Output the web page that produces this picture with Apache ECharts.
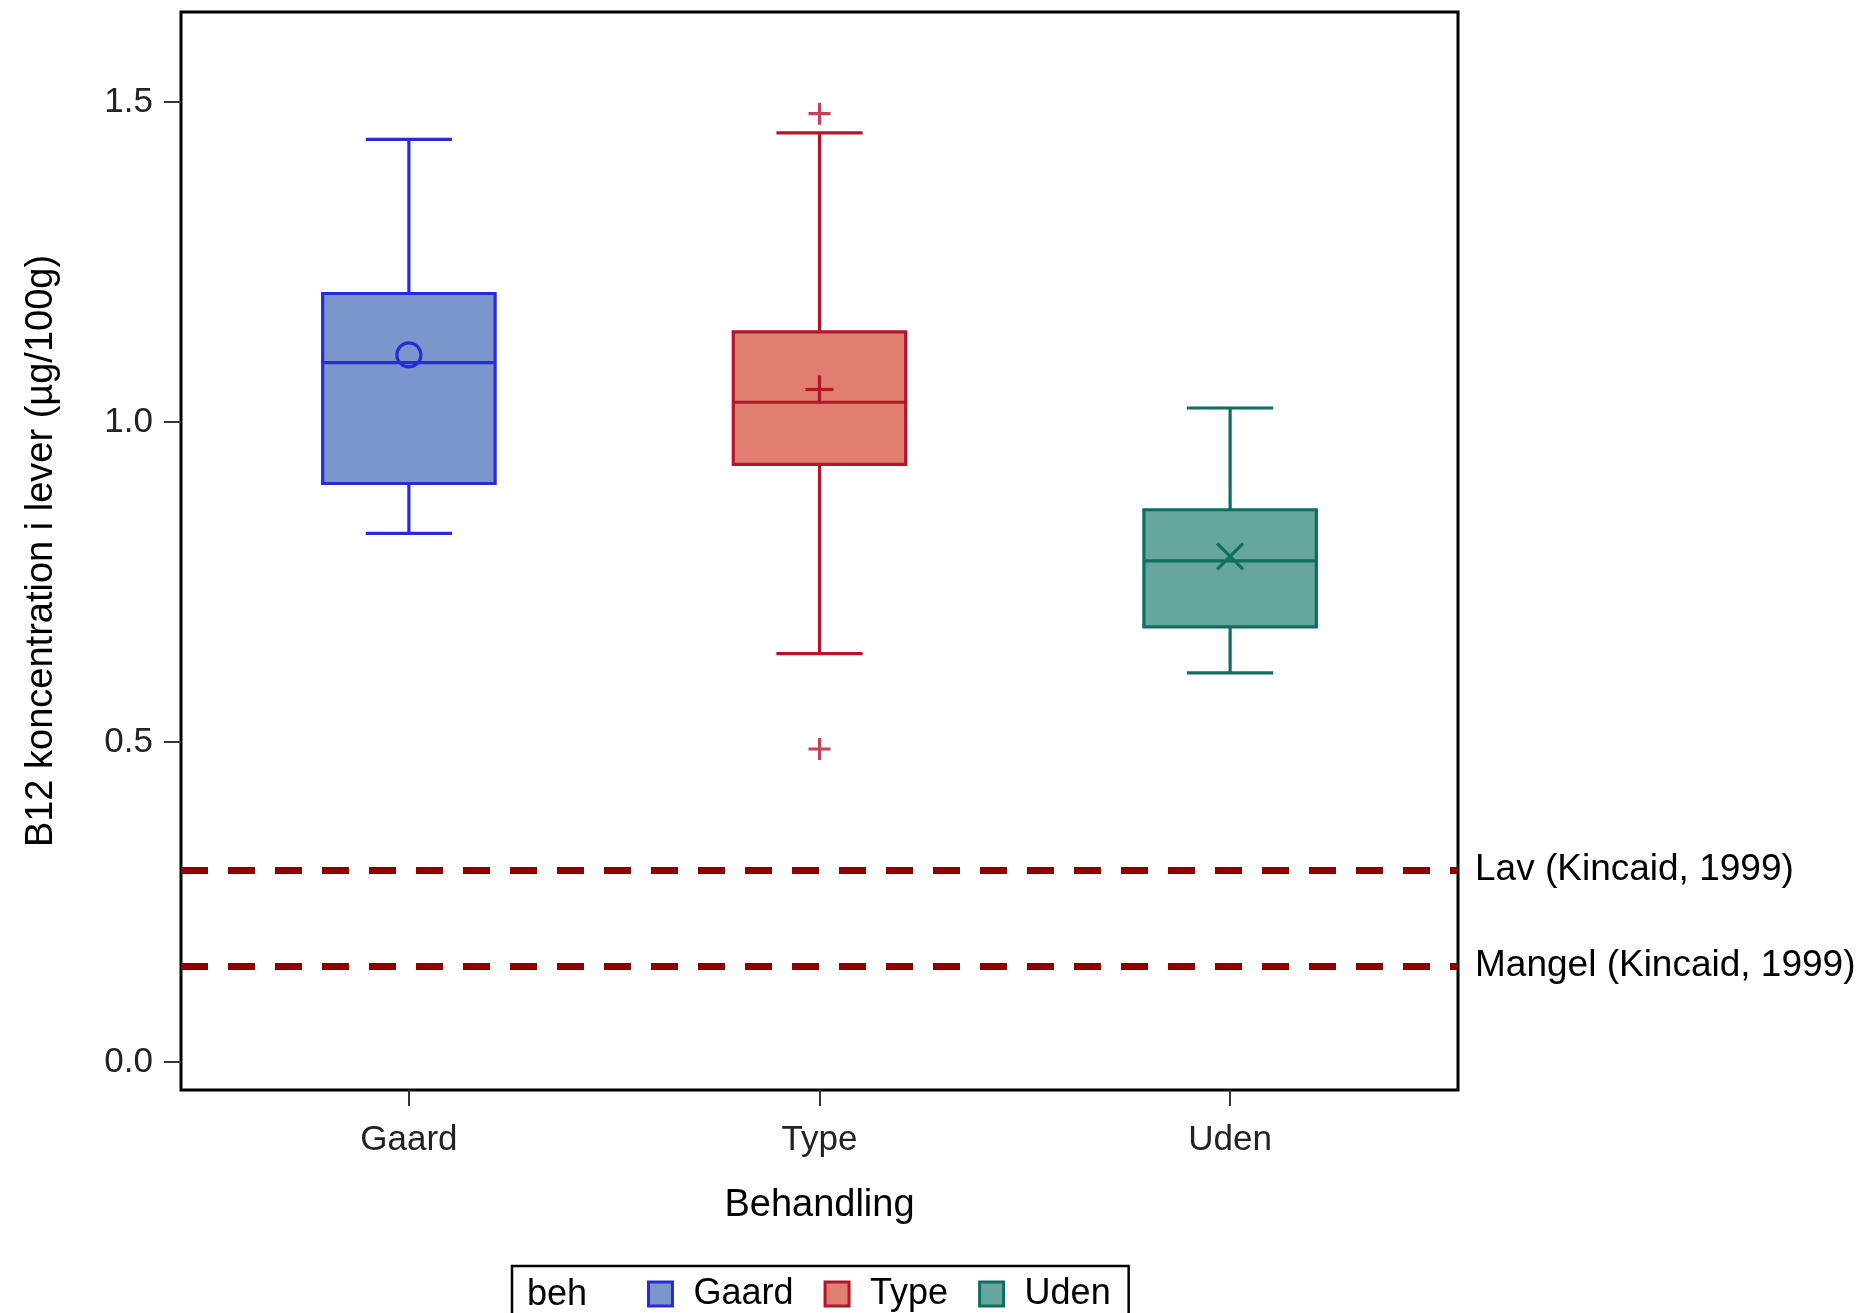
<!DOCTYPE html>
<html>
<head>
<meta charset="utf-8">
<title>B12 koncentration i lever</title>
<script src="https://cdn.jsdelivr.net/npm/echarts@6/dist/echarts.min.js"></script>
<style>
  html, body { margin: 0; padding: 0; background: #fff; }
  #chart { width: 1865px; height: 1313px; }
</style>
</head>
<body>
<div id="chart"></div>
<script>
// Box plot statistics per treatment group
const categories = ['Gaard', 'Type', 'Uden'];
const whiskerLow  = [0.826, 0.638, 0.608];
const quartile1   = [0.904, 0.934, 0.680];
const medians     = [1.093, 1.031, 0.783];
const quartile3   = [1.201, 1.141, 0.863];
const whiskerHigh = [1.442, 1.452, 1.022];
const means       = [1.105, 1.051, 0.790];
const outlierGroup  = [1, 1];
const outlierValues = [1.482, 0.489];

// Reference levels
const refValues = [0.3, 0.15];
const refLabels = ['Lav (Kincaid, 1999)', 'Mangel (Kincaid, 1999)'];

const yTicks = [0, 0.5, 1.0, 1.5];
const xTicks = [0, 1, 2];

const FONT = '"Liberation Sans", Arial, Helvetica, sans-serif';
const fills   = ['#7B96CC', '#E07E6F', '#66A69F'];
const strokes = ['#2B2BD6', '#B5152B', '#0F6E62'];
const meanShapes = ['circle', 'plus', 'cross'];

const BOX_W = 0.42;   // box width in category units
const CAP_W = 0.21;   // whisker cap width in category units

function renderBox(params, api) {
  const x = api.value(0);
  const lo = api.coord([x, api.value(1)]);
  const q1 = api.coord([x, api.value(2)]);
  const md = api.coord([x, api.value(3)]);
  const q3 = api.coord([x, api.value(4)]);
  const hi = api.coord([x, api.value(5)]);
  const mn = api.coord([x, api.value(6)]);
  const bw = api.size([BOX_W, 0])[0];
  const cw = api.size([CAP_W, 0])[0];
  const cx = lo[0];
  const idx = params.seriesIndex;
  const stroke = strokes[idx];
  const lineStyle = { stroke: stroke, lineWidth: 3.2, fill: null };
  const children = [
    { type: 'line', shape: { x1: cx, y1: q3[1], x2: cx, y2: hi[1] }, style: lineStyle },
    { type: 'line', shape: { x1: cx, y1: q1[1], x2: cx, y2: lo[1] }, style: lineStyle },
    { type: 'line', shape: { x1: cx - cw / 2, y1: hi[1], x2: cx + cw / 2, y2: hi[1] }, style: lineStyle },
    { type: 'line', shape: { x1: cx - cw / 2, y1: lo[1], x2: cx + cw / 2, y2: lo[1] }, style: lineStyle },
    { type: 'rect', shape: { x: cx - bw / 2, y: q3[1], width: bw, height: q1[1] - q3[1] },
      style: { fill: fills[idx], stroke: stroke, lineWidth: 3.2 } },
    { type: 'line', shape: { x1: cx - bw / 2, y1: md[1], x2: cx + bw / 2, y2: md[1] }, style: lineStyle }
  ];
  const shape = meanShapes[idx];
  if (shape === 'circle') {
    children.push({ type: 'circle', shape: { cx: cx, cy: mn[1], r: 12 }, style: lineStyle });
  } else if (shape === 'plus') {
    children.push({ type: 'line', shape: { x1: cx - 14, y1: mn[1], x2: cx + 14, y2: mn[1] }, style: lineStyle });
    children.push({ type: 'line', shape: { x1: cx, y1: mn[1] - 14, x2: cx, y2: mn[1] + 14 }, style: lineStyle });
  } else {
    children.push({ type: 'line', shape: { x1: cx - 13, y1: mn[1] - 13, x2: cx + 13, y2: mn[1] + 13 }, style: lineStyle });
    children.push({ type: 'line', shape: { x1: cx - 13, y1: mn[1] + 13, x2: cx + 13, y2: mn[1] - 13 }, style: lineStyle });
  }
  return { type: 'group', children: children };
}

const boxSeries = categories.map(function (name, i) {
  return {
    name: name,
    type: 'custom',
    renderItem: renderBox,
    encode: { x: 0, y: [1, 2, 3, 4, 5] },
    itemStyle: { color: fills[i], borderColor: strokes[i] },
    data: [[i, whiskerLow[i], quartile1[i], medians[i], quartile3[i], whiskerHigh[i], means[i]]],
    z: 3
  };
});

const outlierSeries = {
  name: 'outliers',
  type: 'scatter',
  symbol: 'path://M-1.6,-11h3.2v22h-3.2z M-11,-1.6h22v3.2h-22z',
  symbolSize: 22,
  itemStyle: { color: strokes[1] },
  data: outlierGroup.map(function (g, k) { return [g, outlierValues[k]]; }),
  z: 4,
  markLine: {
    silent: true,
    symbol: ['none', 'none'],
    lineStyle: { color: '#900000', width: 7, type: [27, 20], cap: 'butt', opacity: 1 },
    label: {
      show: true,
      position: 'end',
      distance: 17,
      fontFamily: FONT,
      fontSize: 37,
      color: '#000',
      formatter: function (p) { return p.name; }
    },
    emphasis: { disabled: true },
    data: refValues.map(function (v, k) { return { yAxis: v, name: refLabels[k] }; })
  }
};

const chart = echarts.init(document.getElementById('chart'), null, { renderer: 'canvas' });
chart.setOption({
  animation: false,
  backgroundColor: '#fff',
  textStyle: { fontFamily: FONT },
  title: {
    text: 'beh',
    left: 527,
    top: 1277,
    padding: 0,
    textStyle: { fontFamily: FONT, fontSize: 36, fontWeight: 'normal', color: '#000' }
  },
  legend: {
    left: 512,
    top: 1266,
    orient: 'horizontal',
    borderColor: '#000',
    borderWidth: 2.5,
    padding: [10, 18, 34, 135],
    itemWidth: 24,
    itemHeight: 24,
    itemGap: 30,
    selectedMode: false,
    textStyle: { fontFamily: FONT, fontSize: 36, color: '#000', padding: [0, 0, 0, 16] },
    data: categories.map(function (name, i) {
      return { name: name, icon: 'rect', itemStyle: { color: fills[i], borderColor: strokes[i], borderWidth: 3 } };
    })
  },
  grid: {
    left: 181,
    top: 12,
    width: 1277,
    height: 1078,
    show: true,
    borderColor: '#000',
    borderWidth: 3,
    backgroundColor: 'transparent'
  },
  xAxis: {
    type: 'value',
    min: -0.555,
    max: 2.555,
    name: 'Behandling',
    nameLocation: 'middle',
    nameGap: 97,
    nameTextStyle: { fontFamily: FONT, fontSize: 38, color: '#000' },
    axisLine: { show: false, onZero: false },
    splitLine: { show: false },
    axisTick: { show: true, customValues: xTicks, length: 16, lineStyle: { color: '#333', width: 2 } },
    axisLabel: {
      customValues: xTicks,
      margin: 33,
      fontFamily: FONT,
      fontSize: 35,
      color: '#222',
      formatter: function (v) { return categories[Math.round(v)]; }
    }
  },
  yAxis: {
    type: 'value',
    min: -0.044,
    max: 1.641,
    name: 'B12 koncentration i lever (µg/100g)',
    nameLocation: 'middle',
    nameGap: 120,
    nameTextStyle: { fontFamily: FONT, fontSize: 38, color: '#000' },
    axisLine: { show: false, onZero: false },
    splitLine: { show: false },
    axisTick: { show: true, customValues: yTicks, length: 17, lineStyle: { color: '#333', width: 2 } },
    axisLabel: {
      customValues: yTicks,
      margin: 28,
      fontFamily: FONT,
      fontSize: 35,
      color: '#222',
      formatter: function (v) { return v.toFixed(1); }
    }
  },
  series: boxSeries.concat([outlierSeries])
});
</script>
</body>
</html>
